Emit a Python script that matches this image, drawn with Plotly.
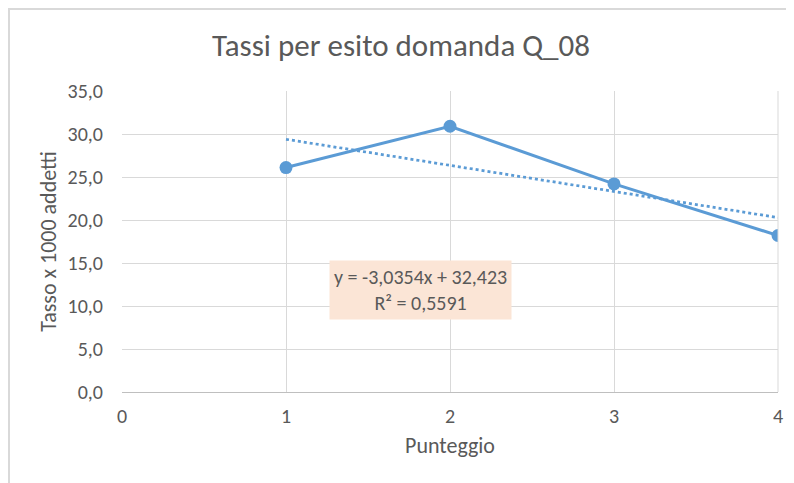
import plotly.graph_objects as go

punteggio = [1, 2, 3, 4]
tasso = [26.1, 30.9, 24.2, 18.2]
slope = -3.0354
intercept = 32.423
r2 = 0.5591
trend_x = [1, 4]
trend_y = [intercept + slope * x for x in trend_x]

blue = "#5B9BD5"
grey_text = "#595959"
font_family = "Carlito, Open Sans, Liberation Sans, sans-serif"

W, H = 786, 475

fig = go.Figure()
fig.add_trace(go.Scatter(x=trend_x, y=trend_y, mode="lines",
                         line=dict(color=blue, width=2.75, dash="dot"),
                         showlegend=False, hoverinfo="skip"))
fig.add_trace(go.Scatter(x=punteggio, y=tasso, mode="lines+markers",
                         line=dict(color=blue, width=3),
                         marker=dict(color=blue, size=13),
                         showlegend=False))

fig.update_layout(
    width=W, height=H,
    margin=dict(l=114, r=16, t=83, b=91),
    paper_bgcolor="white", plot_bgcolor="white",
    separators=",.",
    font=dict(family=font_family, color=grey_text, size=20),
    title=dict(text="Tassi per esito domanda Q_08", x=0.5, xanchor="center",
               xref="container", yref="container",
               y=1 - 37 / H, yanchor="middle",
               font=dict(size=31, color=grey_text, family=font_family)),
    xaxis=dict(range=[0, 4], tickvals=[0, 1, 2, 3, 4], tickformat="d",
               showgrid=True, gridcolor="#D9D9D9", gridwidth=1,
               zeroline=False, showline=True, linecolor="#BFBFBF", linewidth=1,
               ticks="", ticklabelstandoff=6,
               title=dict(text="Punteggio", font=dict(size=22, color=grey_text), standoff=10),
               tickfont=dict(size=20, color=grey_text)),
    yaxis=dict(range=[0, 35], dtick=5, tickformat=".1f",
               showgrid=True, gridcolor="#D9D9D9", gridwidth=1,
               zeroline=False, showline=False, ticks="",
               ticklabelstandoff=18,
               title=dict(text="Tasso x 1000 addetti", font=dict(size=22, color=grey_text), standoff=4),
               tickfont=dict(size=20, color=grey_text)),
    annotations=[dict(x=1.823, y=11.86, xref="x", yref="y",
                      text=f"y = {str(slope).replace('.', ',')}x + {str(intercept).replace('.', ',')}<br>R² = {str(r2).replace('.', ',')}",
                      showarrow=False, bgcolor="#FBE5D6", borderpad=4,
                      font=dict(size=20, color=grey_text), align="center")],
    shapes=[
        dict(type="line", xref="paper", yref="paper", x0=1, x1=1, y0=0, y1=1,
             line=dict(color="#D9D9D9", width=1)),
        dict(type="rect", xref="paper", yref="paper", x0=(1 - 114) / 656, x1=1.2,
             y0=-0.5, y1=1 + (83 - 1) / 301, line=dict(color="#D9D9D9", width=2),
             fillcolor="rgba(0,0,0,0)", layer="below"),
    ],
)

fig.write_html("out.html")
